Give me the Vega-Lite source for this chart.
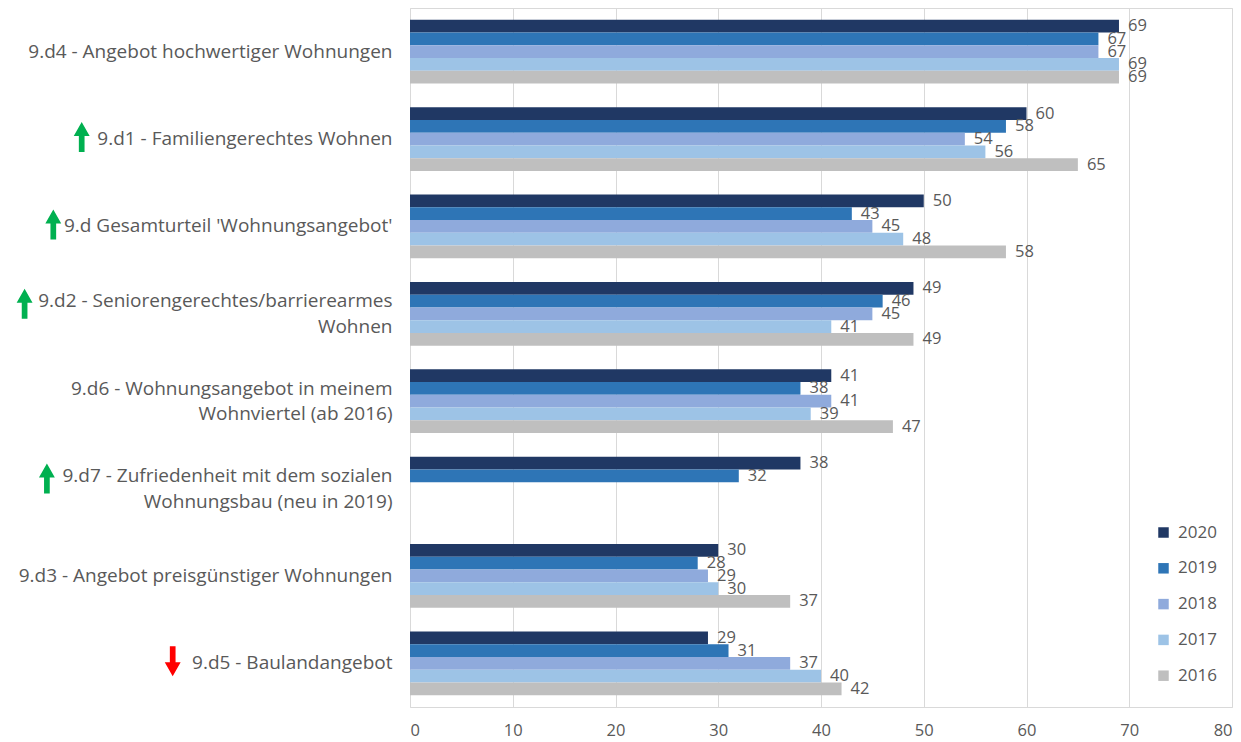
{
  "$schema": "https://vega.github.io/schema/vega-lite/v6.json",
  "width": 822,
  "height": 699,
  "autosize": {"type": "none"},
  "padding": {"left": 410, "top": 8, "right": 9, "bottom": 35},
  "background": "white",
  "config": {
    "view": {"stroke": "#D9D9D9", "strokeWidth": 1},
    "font": "Open Sans"
  },
  "datasets": {
    "bars": [
      {"cat": "9.d4 - Angebot hochwertiger Wohnungen", "year": "2020", "value": 69},
      {"cat": "9.d4 - Angebot hochwertiger Wohnungen", "year": "2019", "value": 67},
      {"cat": "9.d4 - Angebot hochwertiger Wohnungen", "year": "2018", "value": 67},
      {"cat": "9.d4 - Angebot hochwertiger Wohnungen", "year": "2017", "value": 69},
      {"cat": "9.d4 - Angebot hochwertiger Wohnungen", "year": "2016", "value": 69},
      {"cat": "9.d1 - Familiengerechtes Wohnen", "year": "2020", "value": 60},
      {"cat": "9.d1 - Familiengerechtes Wohnen", "year": "2019", "value": 58},
      {"cat": "9.d1 - Familiengerechtes Wohnen", "year": "2018", "value": 54},
      {"cat": "9.d1 - Familiengerechtes Wohnen", "year": "2017", "value": 56},
      {"cat": "9.d1 - Familiengerechtes Wohnen", "year": "2016", "value": 65},
      {"cat": "9.d Gesamturteil 'Wohnungsangebot'", "year": "2020", "value": 50},
      {"cat": "9.d Gesamturteil 'Wohnungsangebot'", "year": "2019", "value": 43},
      {"cat": "9.d Gesamturteil 'Wohnungsangebot'", "year": "2018", "value": 45},
      {"cat": "9.d Gesamturteil 'Wohnungsangebot'", "year": "2017", "value": 48},
      {"cat": "9.d Gesamturteil 'Wohnungsangebot'", "year": "2016", "value": 58},
      {"cat": "9.d2 - Seniorengerechtes/barrierearmes|Wohnen", "year": "2020", "value": 49},
      {"cat": "9.d2 - Seniorengerechtes/barrierearmes|Wohnen", "year": "2019", "value": 46},
      {"cat": "9.d2 - Seniorengerechtes/barrierearmes|Wohnen", "year": "2018", "value": 45},
      {"cat": "9.d2 - Seniorengerechtes/barrierearmes|Wohnen", "year": "2017", "value": 41},
      {"cat": "9.d2 - Seniorengerechtes/barrierearmes|Wohnen", "year": "2016", "value": 49},
      {"cat": "9.d6 - Wohnungsangebot in meinem|Wohnviertel (ab 2016)", "year": "2020", "value": 41},
      {"cat": "9.d6 - Wohnungsangebot in meinem|Wohnviertel (ab 2016)", "year": "2019", "value": 38},
      {"cat": "9.d6 - Wohnungsangebot in meinem|Wohnviertel (ab 2016)", "year": "2018", "value": 41},
      {"cat": "9.d6 - Wohnungsangebot in meinem|Wohnviertel (ab 2016)", "year": "2017", "value": 39},
      {"cat": "9.d6 - Wohnungsangebot in meinem|Wohnviertel (ab 2016)", "year": "2016", "value": 47},
      {"cat": "9.d7 - Zufriedenheit mit dem sozialen|Wohnungsbau (neu in 2019)", "year": "2020", "value": 38},
      {"cat": "9.d7 - Zufriedenheit mit dem sozialen|Wohnungsbau (neu in 2019)", "year": "2019", "value": 32},
      {"cat": "9.d3 - Angebot preisgünstiger Wohnungen", "year": "2020", "value": 30},
      {"cat": "9.d3 - Angebot preisgünstiger Wohnungen", "year": "2019", "value": 28},
      {"cat": "9.d3 - Angebot preisgünstiger Wohnungen", "year": "2018", "value": 29},
      {"cat": "9.d3 - Angebot preisgünstiger Wohnungen", "year": "2017", "value": 30},
      {"cat": "9.d3 - Angebot preisgünstiger Wohnungen", "year": "2016", "value": 37},
      {"cat": "9.d5 - Baulandangebot", "year": "2020", "value": 29},
      {"cat": "9.d5 - Baulandangebot", "year": "2019", "value": 31},
      {"cat": "9.d5 - Baulandangebot", "year": "2018", "value": 37},
      {"cat": "9.d5 - Baulandangebot", "year": "2017", "value": 40},
      {"cat": "9.d5 - Baulandangebot", "year": "2016", "value": 42}
    ],
    "trends": [
      {"cat": "9.d1 - Familiengerechtes Wohnen", "trend": "up"},
      {"cat": "9.d Gesamturteil 'Wohnungsangebot'", "trend": "up"},
      {"cat": "9.d2 - Seniorengerechtes/barrierearmes|Wohnen", "trend": "up"},
      {"cat": "9.d7 - Zufriedenheit mit dem sozialen|Wohnungsbau (neu in 2019)", "trend": "up"},
      {"cat": "9.d5 - Baulandangebot", "trend": "down"}
    ]
  },
  "layer": [
    {
      "data": {"name": "bars"},
      "mark": {"type": "bar"},
      "encoding": {
        "y": {
          "field": "cat", "type": "nominal",
          "scale": {
            "domain": [
              "9.d4 - Angebot hochwertiger Wohnungen",
              "9.d1 - Familiengerechtes Wohnen",
              "9.d Gesamturteil 'Wohnungsangebot'",
              "9.d2 - Seniorengerechtes/barrierearmes|Wohnen",
              "9.d6 - Wohnungsangebot in meinem|Wohnviertel (ab 2016)",
              "9.d7 - Zufriedenheit mit dem sozialen|Wohnungsbau (neu in 2019)",
              "9.d3 - Angebot preisgünstiger Wohnungen",
              "9.d5 - Baulandangebot"
            ],
            "paddingInner": 0.27, "paddingOuter": 0.135
          },
          "axis": {
            "title": null, "ticks": false, "domain": false,
            "labelExpr": "split(datum.value, '|')",
            "labelFontSize": 19, "labelColor": "#595959", "labelPadding": 18,
            "labelLineHeight": 25.5, "labelLimit": 420,
            "labelOffset": {"condition": {"test": "indexof(datum.value, '|') >= 0", "value": -12.5}, "value": 0}
          }
        },
        "yOffset": {
          "field": "year", "type": "nominal",
          "sort": ["2020", "2019", "2018", "2017", "2016"]
        },
        "x": {
          "field": "value", "type": "quantitative",
          "scale": {"domain": [0, 80]},
          "axis": {
            "title": null, "ticks": false, "domain": false, "tickCount": 8,
            "gridColor": "#D9D9D9", "labelFontSize": 16.5, "labelColor": "#595959",
            "labelPadding": 15
          }
        },
        "color": {
          "field": "year", "type": "nominal",
          "scale": {
            "domain": ["2020", "2019", "2018", "2017", "2016"],
            "range": ["#203864", "#2E75B6", "#8FAADC", "#9DC3E6", "#BFBFBF"]
          },
          "legend": {
            "title": null, "orient": "none", "legendX": 745, "legendY": 516,
            "symbolType": "square", "symbolSize": 110, "symbolStrokeWidth": 0,
            "labelFontSize": 17, "labelColor": "#595959", "rowPadding": 17.8,
            "labelOffset": 6
          }
        }
      }
    },
    {
      "data": {"name": "bars"},
      "mark": {"type": "text", "align": "left", "dx": 9, "fontSize": 16.5, "color": "#595959"},
      "encoding": {
        "y": {"field": "cat", "type": "nominal"},
        "yOffset": {"field": "year", "type": "nominal", "sort": ["2020", "2019", "2018", "2017", "2016"]},
        "x": {"field": "value", "type": "quantitative"},
        "text": {"field": "value", "type": "quantitative"}
      }
    },
    {
      "data": {"name": "trends"},
      "mark": {
        "type": "point", "filled": true, "opacity": 1, "size": 900, "strokeWidth": 0,
        "xOffset": {"expr": "-(33 + 11.3*length(split(datum.cat, '|')[0]) - 5.5*length(replace(split(datum.cat, '|')[0], regexp(\"[^iltfjr .'/-]\", 'g'), '')))"},
        "yOffset": {"expr": "indexof(datum.cat, '|') >= 0 ? -10 : -2"}
      },
      "encoding": {
        "y": {"field": "cat", "type": "nominal"},
        "x": {"datum": 0},
        "shape": {
          "condition": {"test": "datum.trend == 'up'", "value": "M-0.19,1L0.19,1L0.19,-0.07L0.53,-0.07L0,-1L-0.53,-0.07L-0.19,-0.07Z"},
          "value": "M-0.19,-1L0.19,-1L0.19,0.07L0.53,0.07L0,1L-0.53,0.07L-0.19,0.07Z"
        },
        "color": {"condition": {"test": "datum.trend == 'up'", "value": "#00B050"}, "value": "#FF0000"}
      }
    }
  ]
}
